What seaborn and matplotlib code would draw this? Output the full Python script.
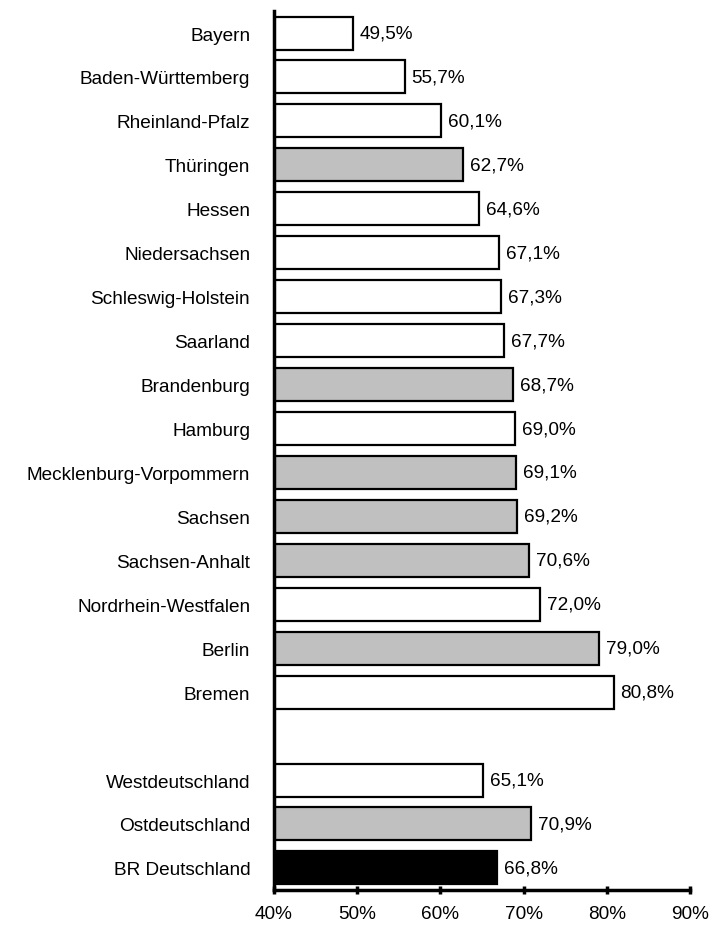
import matplotlib
matplotlib.use("Agg")
import matplotlib.pyplot as plt
import pandas as pd
import seaborn as sns

# Daten (Anteil in %)
laender = ["Bayern", "Baden-Württemberg", "Rheinland-Pfalz", "Thüringen", "Hessen",
           "Niedersachsen", "Schleswig-Holstein", "Saarland", "Brandenburg", "Hamburg",
           "Mecklenburg-Vorpommern", "Sachsen", "Sachsen-Anhalt", "Nordrhein-Westfalen",
           "Berlin", "Bremen"]
werte_laender = [49.5, 55.7, 60.1, 62.7, 64.6, 67.1, 67.3, 67.7, 68.7, 69.0,
                 69.1, 69.2, 70.6, 72.0, 79.0, 80.8]
gruppe_laender = ["west", "west", "west", "ost", "west", "west", "west", "west", "ost", "west",
                  "ost", "ost", "ost", "west", "ost", "west"]

summen = ["Westdeutschland", "Ostdeutschland", "BR Deutschland"]
werte_summen = [65.1, 70.9, 66.8]
gruppe_summen = ["west", "ost", "bund"]

x_ticks = [40, 50, 60, 70, 80, 90]

farben = {"west": "white", "ost": "#c0c0c0", "bund": "black"}

sns.set_style("white")
plt.rcParams['font.family'] = ['Liberation Sans', 'DejaVu Sans']
plt.rcParams['text.color'] = 'black'
plt.rcParams['xtick.color'] = 'black'
plt.rcParams['ytick.color'] = 'black'

df = pd.DataFrame({
    "name": laender + summen,
    "wert": werte_laender + werte_summen,
    "gruppe": gruppe_laender + gruppe_summen,
})
reihenfolge = laender + [" "] + summen

fig = plt.figure(figsize=(7.13, 9.28), dpi=100)
ax = fig.add_axes([0.384, 0.04, 0.584, 0.947])

sns.barplot(data=df, y="name", x="wert", hue="gruppe", order=reihenfolge,
            palette=farben, dodge=False, legend=False, width=0.75,
            edgecolor="black", linewidth=1.6, ax=ax)

fs = 13.7
for c in ax.containers:
    ax.bar_label(c, labels=[f"{b.get_width():.1f}%".replace(".", ",") for b in c],
                 padding=5, fontsize=fs, color="black")

ax.set_xlim(40, 90)
ax.set_ylim(len(reihenfolge) - 0.5, -0.5)
ax.set_xticks(x_ticks)
ax.set_xticklabels([f"{t}%" for t in x_ticks])
ax.set_xlabel("")
ax.set_ylabel("")

ax.tick_params(axis="x", bottom=True, direction="inout", length=6, width=2.5, pad=8, labelsize=fs)
ax.tick_params(axis="y", left=False, length=0, pad=17, labelsize=fs)
for s in ["top", "right"]:
    ax.spines[s].set_visible(False)
for s in ["left", "bottom"]:
    ax.spines[s].set_linewidth(2.5)
    ax.spines[s].set_color("black")

fig.savefig("out.png", dpi=100)
